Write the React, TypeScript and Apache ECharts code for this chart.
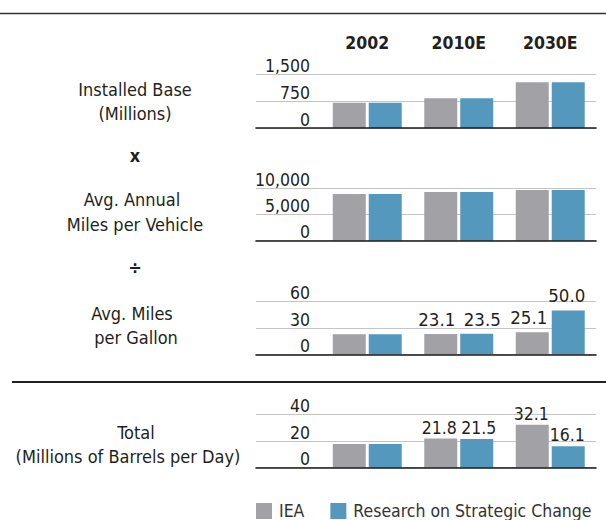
import React, { useEffect, useRef } from "react";
import * as echarts from "echarts";

const categories = ["2002", "2010E", "2030E"];
const seriesNames = ["IEA", "Research on Strategic Change"];

const installedIEA = [710, 840, 1290];
const installedRSC = [710, 840, 1290];
const milesIEA = [8860, 9240, 9620];
const milesRSC = [8860, 9240, 9620];
const mpgIEA = [22.9, 23.1, 25.1];
const mpgRSC = [22.9, 23.5, 50.0];
const totalIEA = [17.8, 21.8, 32.1];
const totalRSC = [17.8, 21.5, 16.1];

const showLabels = [false, false, true, true]; // per panel
const labelPoints = [false, true, true]; // per category

const axisMax = [1500, 10000, 60, 40];
const axisInterval = [750, 5000, 30, 20];

const sideLabels = [
  "Installed Base",
  "(Millions)",
  "x",
  "Avg. Annual",
  "Miles per Vehicle",
  "÷",
  "Avg. Miles",
  "per Gallon",
  "Total",
  "(Millions of Barrels per Day)",
];

const FONT = "'DejaVu Sans Condensed', 'DejaVu Sans', sans-serif";
const TEXT = "#231f20";
const GRAY = "#a2a1a6";
const BLUE = "#5499bd";

// label styling per panel: font size, and horizontal nudge per series/category
const labelFont = [17, 17, 18.5, 17.5];
const labelNudge: Record<number, number[][]> = {
  2: [
    [0, -4, -3.5],
    [0, 5.5, -1.5],
  ],
  3: [
    [0, -1.5, -1],
    [0, 2, -1],
  ],
};
const labelDistance = [4, 4, 5, 2];

export default function App() {
  const ref = useRef<HTMLDivElement>(null);

  useEffect(() => {
    if (!ref.current) return;
    const chart = echarts.init(ref.current, undefined, { renderer: "svg" });

    const panels = [
      [installedIEA, installedRSC],
      [milesIEA, milesRSC],
      [mpgIEA, mpgRSC],
      [totalIEA, totalRSC],
    ];
    const layout = [
      [74.7, 53.3],
      [188, 52.7],
      [301.7, 52.6],
      [414.3, 53.4],
    ];

    const grid: any[] = [];
    const xAxis: any[] = [];
    const yAxis: any[] = [];
    const series: any[] = [];

    panels.forEach((pair, i) => {
      const [top, height] = layout[i];
      const deco = 2 * i;
      const bar = 2 * i + 1;
      grid.push({ left: 256, right: 10, top, height, containLabel: false });
      grid.push({ left: 321.5, right: 10, top, height, containLabel: false });

      xAxis.push({
        type: "category",
        gridIndex: deco,
        data: [""],
        axisLine: { show: true, lineStyle: { color: "#1a1a1a", width: 1.6 } },
        axisTick: { show: false },
        axisLabel: { show: false },
        z: 5,
      });
      xAxis.push({
        type: "category",
        gridIndex: bar,
        data: categories,
        position: i === 0 ? "top" : "bottom",
        axisLine: { show: false },
        axisTick: { show: false },
        axisLabel:
          i === 0
            ? {
                show: true,
                fontFamily: FONT,
                fontWeight: "bold",
                fontSize: 17.5,
                color: TEXT,
                margin: 23,
              }
            : { show: false },
      });

      yAxis.push({
        type: "value",
        gridIndex: deco,
        min: 0,
        max: axisMax[i],
        interval: axisInterval[i],
        axisLine: { show: false },
        axisTick: { show: false },
        axisLabel: { show: false },
        splitLine: { show: true, lineStyle: { color: "#c4c4c4", width: 1 } },
      });
      yAxis.push({
        type: "value",
        gridIndex: bar,
        min: 0,
        max: axisMax[i],
        interval: axisInterval[i],
        axisLine: { show: false },
        axisTick: { show: false },
        splitLine: { show: false },
        axisLabel: {
          margin: 11.5,
          fontFamily: FONT,
          fontSize: 17.5,
          color: TEXT,
          verticalAlign: "bottom",
          lineHeight: 17,
          formatter: (v: number) => v.toLocaleString("en-US"),
        },
      });

      pair.forEach((values, s) => {
        series.push({
          type: "bar",
          name: seriesNames[s],
          xAxisIndex: bar,
          yAxisIndex: bar,
          barWidth: 33,
          barGap: "9%",
          z: 3,
          itemStyle: { color: s === 0 ? GRAY : BLUE },
          data: values.map((v, k) => ({
            value: v,
            label: {
              show: showLabels[i] && labelPoints[k],
              offset: [labelNudge[i] ? labelNudge[i][s][k] : 0, 0],
            },
          })),
          label: {
            show: false,
            position: "top",
            distance: labelDistance[i],
            fontFamily: FONT,
            fontSize: labelFont[i],
            color: TEXT,
            formatter: (p: any) => Number(p.value).toFixed(1),
          },
        });
      });
    });

    const sideY = [89, 113, 155, 199, 224, 267, 313, 337, 432, 456];
    const sideX = [135, 135, 135, 132, 135, 135, 132, 136, 136, 128];
    const bold = [false, false, true, false, false, true, false, false, false, false];

    const graphic: any[] = [
      {
        type: "line",
        shape: { x1: 0, y1: 13.5, x2: 606, y2: 13.5 },
        style: { stroke: "#333", lineWidth: 1.6 },
      },
      {
        type: "line",
        shape: { x1: 12, y1: 382, x2: 606, y2: 382 },
        style: { stroke: "#222", lineWidth: 2.2 },
      },
      ...sideLabels.map((t, k) => ({
        type: "text",
        x: sideX[k],
        y: sideY[k],
        style: {
          text: t,
          fontFamily: FONT,
          fontSize: 18,
          fontWeight: bold[k] ? "bold" : "normal",
          fill: TEXT,
          align: "center",
          verticalAlign: "middle",
        },
      })),
    ];

    chart.setOption({
      animation: false,
      backgroundColor: "#ffffff",
      grid,
      xAxis,
      yAxis,
      series,
      graphic,
      legend: {
        data: seriesNames,
        left: 256,
        top: 502,
        padding: 0,
        itemWidth: 16,
        itemHeight: 16,
        itemGap: 26,
        icon: "rect",
        textStyle: {
          fontFamily: FONT,
          fontSize: 17.5,
          color: "#333",
          padding: [0, 0, 0, 2],
        },
      },
    });

    return () => chart.dispose();
  }, []);

  return (
    <div
      ref={ref}
      style={{ position: "absolute", left: 0, top: 0, width: 606, height: 520 }}
    />
  );
}
